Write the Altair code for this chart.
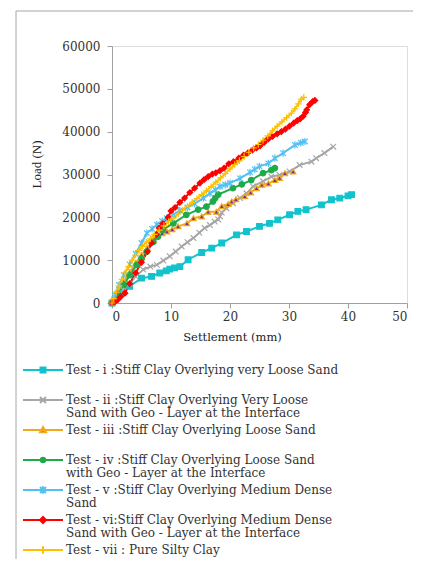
import altair as alt
import pandas as pd

# ---------------- data ----------------
series_keys = ["i", "ii", "iii", "iv", "v", "vi", "vii"]

x_i = [0, 0.5, 1.5, 3.0, 5.0, 6.7, 8.1, 9.2, 9.8, 10.6, 11.5, 12.9, 15.2, 16.9, 18.6,
       21.1, 22.8, 25.0, 26.7, 28.1, 30.1, 31.5, 32.9, 35.5, 37.2, 38.6, 40.0, 40.6]
y_i = [0, 800, 2200, 3900, 5800, 6200, 7000, 7500, 7900, 8200, 8500, 10100, 11800, 12800, 14000,
       15900, 16700, 17900, 18600, 19400, 20600, 21400, 21800, 22900, 24100, 24500, 25000, 25300]

x_ii = [0, 1.0, 2.0, 3.0, 4.0, 5.3, 6.5, 7.6, 8.7, 9.8, 10.8, 11.8, 12.8, 13.8, 14.8, 15.7, 16.6,
        17.4, 18.0, 18.3, 18.6, 19.4, 20.5, 21.7, 22.8, 23.9, 25.6, 27.0, 28.4, 30.1, 31.8, 33.8,
        34.6, 36.0, 37.5]
y_ii = [0, 1500, 3000, 4500, 6200, 7800, 8500, 8900, 9900, 10900, 12000, 13200, 14200, 15200, 16400,
        17500, 18200, 19000, 19500, 20200, 21100, 22100, 23300, 24500, 25600, 27200, 28400, 29500,
        29900, 30700, 32200, 33000, 33800, 35000, 36500]

x_iii = [0, 1.0, 2.0, 3.0, 4.0, 5.0, 6.0, 7.0, 7.6, 8.5, 9.3, 10.2, 11.2, 12.7, 13.8, 15.2, 16.3,
         17.7, 18.6, 19.7, 20.3, 21.0, 22.5, 23.5, 24.5, 25.4, 26.5, 27.6, 28.4, 29.3, 30.7]
y_iii = [0, 2500, 5000, 7200, 9300, 11200, 12900, 14600, 15900, 16300, 16700, 17200, 17900, 18600,
         19800, 20200, 21300, 21300, 22600, 23100, 23700, 24200, 24900, 25800, 26800, 27600, 27900,
         28700, 29200, 30300, 30700]

x_iv = [0, 1.0, 2.0, 3.0, 4.2, 5.0, 5.9, 7.0, 7.8, 8.6, 10.4, 12.6, 14.6, 16.0, 17.1, 17.5, 18.0,
        20.5, 22.0, 23.6, 25.6, 27.0, 27.6]
y_iv = [0, 2000, 4200, 6500, 8900, 10300, 12000, 14300, 15500, 17100, 18600, 20600, 21800, 22500,
        23700, 24500, 25300, 26800, 27700, 28700, 30300, 31000, 31500]

x_v = [0, 0.5, 1.2, 2.0, 3.0, 4.0, 5.0, 5.9, 6.8, 7.6, 8.5, 9.3, 10.4, 11.5, 12.8, 14.0, 15.5, 16.6,
       17.5, 18.3, 19.2, 20.0, 21.7, 23.4, 24.2, 25.0, 26.5, 27.6, 29.0, 31.0, 32.0, 32.7]
y_v = [0, 2000, 4200, 6500, 9000, 11500, 14000, 16300, 17300, 18300, 19100, 19800, 20600, 21600,
       22300, 23200, 24500, 25600, 26400, 27200, 27600, 28000, 29100, 30500, 31200, 31900, 32600,
       33800, 35000, 36900, 37400, 37700]

x_vi = [0, 0.5, 1.0, 1.5, 2.2, 3.0, 4.0, 5.0, 6.0, 6.7, 7.5, 8.0, 8.6, 9.5, 10.0, 10.7, 11.5, 12.3,
        13.2, 14.0, 14.9, 15.6, 16.3, 17.0, 17.6, 18.3, 19.0, 19.8, 20.6, 21.5, 22.3, 23.0, 23.8,
        24.5, 25.1, 25.8, 26.5, 27.2, 28.0, 28.7, 29.4, 30.1, 30.8, 31.4, 31.9, 32.4, 32.8, 33.0,
        33.5, 34.0, 34.4]
y_vi = [0, 300, 800, 1500, 2300, 4500, 7000, 9500, 12000, 14000, 16000, 17500, 18500, 20000, 21500,
        22300, 23500, 24500, 25800, 26800, 28000, 28800, 29500, 30100, 30400, 30900, 31500, 32500,
        33000, 33800, 34500, 35000, 35700, 36200, 36700, 37500, 38300, 38900, 39500, 40000, 40600,
        41300, 42000, 42600, 43000, 43600, 44500, 45100, 46300, 47000, 47300]

x_vii = [0, 0.3, 0.7, 1.2, 1.7, 2.2, 2.8, 3.4, 4.0, 4.6, 5.2, 5.8, 6.5, 7.2, 8.0, 8.8, 9.6, 10.4,
         11.2, 12.0, 12.8, 13.6, 14.4, 15.2, 16.0, 16.8, 17.6, 18.4, 19.2, 20.0, 20.8, 21.6, 22.4,
         23.2, 24.0, 24.8, 25.6, 26.4, 27.2, 28.0, 28.8, 29.6, 30.4, 31.0, 31.6, 32.1, 32.5]
y_vii = [0, 1000, 2500, 4000, 5500, 7000, 8500, 10000, 11200, 12300, 13200, 14200, 15000, 16000,
         17000, 18000, 19000, 19800, 20800, 21700, 22600, 23500, 24400, 25300, 26200, 27200, 28200,
         29200, 30200, 31300, 32300, 33200, 34200, 35200, 36200, 37000, 38000, 39000, 40200, 41300,
         42300, 43300, 44300, 45300, 46500, 47600, 48000]

line_colors = ["#12c2cc", "#a6a6a6", "#f2a91e", "#1faa4a", "#52c0f2", "#ff0000", "#ffc000"]
marker_fill = ["#12c2cc", "#a6a6a6", "#7030a0", "#1faa4a", "#52c0f2", "#ff0000", "#ffc000"]
marker_shapes = [
    "square",
    "M-1,-1L1,1M-1,1L1,-1",
    "triangle-up",
    "circle",
    "M-1,-1L1,1M-1,1L1,-1M0,-1.3V1.3",
    "diamond",
    "M-1.2,0H1.2M0,-1.2V1.2",
]
marker_sizes = [32, 30, 45, 45, 40, 85, 60]

# every legend label has two lines (second may be blank) so all rows are equally tall
labels = [
    ["Test - i :Stiff Clay Overlying very Loose Sand", " "],
    ["Test - ii :Stiff Clay Overlying Very Loose", "Sand with Geo - Layer at the Interface"],
    ["Test - iii :Stiff Clay Overlying Loose Sand", " "],
    ["Test - iv :Stiff Clay Overlying Loose Sand", "with Geo - Layer at the Interface"],
    ["Test - v :Stiff Clay Overlying Medium Dense", "Sand"],
    ["Test - vi:Stiff Clay Overlying Medium Dense", "Sand with Geo - Layer at the Interface"],
    ["Test - vii : Pure Silty Clay", " "],
]

# legend glyphs: a line segment with the series marker in its middle
legend_paths = [
    "M-2,0H2M-0.25,-0.25H0.25V0.25H-0.25Z",
    "M-2,0H2M-0.3,-0.3L0.3,0.3M-0.3,0.3L0.3,-0.3",
    "M-2,0H2M0,-0.3L0.3,0.22H-0.3Z",
    "M-2,0H2M-0.22,0A0.22,0.22,0,1,0,0.22,0A0.22,0.22,0,1,0,-0.22,0Z",
    "M-2,0H2M-0.3,-0.3L0.3,0.3M-0.3,0.3L0.3,-0.3M0,-0.38V0.38",
    "M-2,0H2M0,-0.3L0.3,0L0,0.3L-0.3,0Z",
    "M-2,0H2M0,-0.38V0.38",
]

# ---------------- build table ----------------
all_x = [x_i, x_ii, x_iii, x_iv, x_v, x_vi, x_vii]
all_y = [y_i, y_ii, y_iii, y_iv, y_v, y_vi, y_vii]
rows = []
for s, (k, xs, ys) in enumerate(zip(series_keys, all_x, all_y)):
    for j, (a, b) in enumerate(zip(xs, ys)):
        rows.append({"series": k, "x": a, "y": b, "idx": j, "s": s})
df = pd.DataFrame(rows)


def chain(values):
    expr = ""
    for k, v in zip(series_keys[:-1], values[:-1]):
        expr += f"datum.value == '{k}' ? {v} : "
    expr += f"{values[-1]}"
    return expr


label_expr = chain(["[" + ", ".join(f"'{t}'" for t in lab) + "]" for lab in labels])

SERIF = "DejaVu Serif"
TIMES = "Liberation Serif"
AX = "#a0a0a0"

x_enc = alt.X(
    "x:Q",
    scale=alt.Scale(domain=[0, 50], nice=False, zero=True),
    axis=alt.Axis(
        values=[0, 10, 20, 30, 40, 50], title="Settlement (mm)", grid=False,
        domainColor=AX, tickColor=AX, tickSize=5, labelPadding=3,
        labelFont=SERIF, labelFontSize=12, labelColor="#333333",
        titleFont=SERIF, titleFontSize=11.5, titleFontWeight="normal", titleColor="#222222",
        titleX=120, titleY=37, titleBaseline="alphabetic", titleAnchor="middle",
    ),
)
y_enc = alt.Y(
    "y:Q",
    scale=alt.Scale(domain=[0, 60000], nice=False),
    axis=alt.Axis(
        values=[0, 10000, 20000, 30000, 40000, 50000, 60000], format="d", title="Load (N)",
        grid=False, domainColor=AX, tickColor=AX, tickSize=5, labelPadding=7,
        labelFont=SERIF, labelFontSize=12, labelColor="#333333",
        titleFont=TIMES, titleFontSize=13, titleFontWeight="normal", titleColor="#222222",
        titleX=-76, titleY=118, titleBaseline="middle", titleAngle=-90, titleAlign="center",
    ),
)

base = alt.Chart(df)

lines = base.mark_line(strokeWidth=2).encode(
    x=x_enc,
    y=y_enc,
    detail="series:N",
    order=alt.Order("idx:Q"),
    color=alt.Color("series:N", scale=alt.Scale(domain=series_keys, range=line_colors), legend=None),
)

points = base.mark_point(filled=True, strokeWidth=1.2, opacity=1).encode(
    x="x:Q",
    y="y:Q",
    shape=alt.Shape("series:N", scale=alt.Scale(domain=series_keys, range=marker_shapes), legend=None),
    fill=alt.Fill("series:N", scale=alt.Scale(domain=series_keys, range=marker_fill), legend=None),
    stroke=alt.Stroke("series:N", scale=alt.Scale(domain=series_keys, range=line_colors), legend=None),
    size=alt.Size("series:N", scale=alt.Scale(domain=series_keys, range=marker_sizes), legend=None),
    order=alt.Order("s:Q"),
)

legend_cfg = alt.Legend(
    title=None, orient="none", legendX=-80, legendY=313, direction="vertical",
    symbolSize=400, symbolStrokeWidth=2, labelOffset=12, rowPadding=-1,
    labelFont=SERIF, labelFontSize=12, labelColor="#333333", labelLimit=420,
    labelExpr=label_expr, padding=0, symbolOpacity=1,
)
legend_layer = base.transform_filter("datum.idx < 0").mark_point(strokeWidth=2, opacity=1).encode(
    x="x:Q",
    y="y:Q",
    shape=alt.Shape("series:N", scale=alt.Scale(domain=series_keys, range=legend_paths), legend=legend_cfg),
    fill=alt.Fill("series:N", scale=alt.Scale(domain=series_keys, range=marker_fill), legend=legend_cfg),
    stroke=alt.Stroke("series:N", scale=alt.Scale(domain=series_keys, range=line_colors), legend=legend_cfg),
)

frame_df = pd.DataFrame({"a": [0]})
frame_left = alt.Chart(frame_df).mark_rule(color="#a6a6a6", strokeWidth=1).encode(
    x=alt.value(-96), y=alt.value(-35), y2=alt.value(525)
)
frame_top = alt.Chart(frame_df).mark_rule(color="#a6a6a6", strokeWidth=1).encode(
    x=alt.value(-96), x2=alt.value(320), y=alt.value(-35)
)

chart = alt.layer(frame_left, frame_top, lines, points, legend_layer).resolve_scale(
    shape="independent", fill="independent", stroke="independent"
).properties(
    width=295, height=257,
    padding={"left": 104, "top": 38, "right": 6, "bottom": 256},
    autosize=alt.AutoSizeParams(type="none"),
).configure_view(strokeWidth=0).configure(
    style={"guide-label": {"lineHeight": 13}}
)

chart.save("out.html", embed_options={"renderer": "svg", "actions": False})
